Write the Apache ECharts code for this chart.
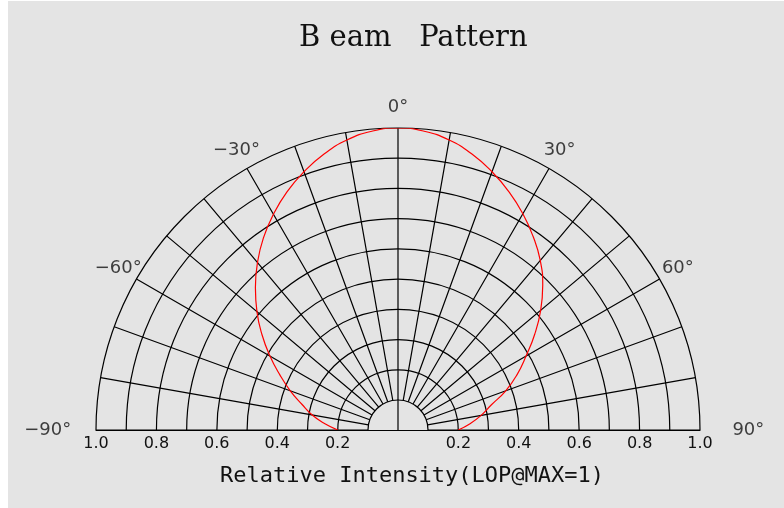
<!DOCTYPE html>
<html>
<head>
<meta charset="utf-8">
<title>Beam Pattern</title>
<script src="https://cdn.jsdelivr.net/npm/echarts@6/dist/echarts.min.js"></script>
<style>
    html, body { margin: 0; padding: 0; background: #fff; }
    #beam { position: absolute; left: 8px; top: 1px; width: 776px; height: 507px; background: #e4e4e4; }
</style>
</head>
<body>
<div id="beam"></div>
<script>
// angle in degrees, relative intensity
let angles = [-90, -85, -80, -75, -70, -65, -60, -55, -50, -45, -40, -35, -30, -25, -20, -15, -10, -5, 0,
    5, 10, 15, 20, 25, 30, 35, 40, 45, 50, 55, 60, 65, 70, 75, 80, 85, 90];
let intensity = [0.2, 0.245, 0.29, 0.33, 0.38, 0.432, 0.49, 0.55, 0.61, 0.668, 0.724, 0.777, 0.825, 0.87, 0.91, 0.946, 0.975, 0.993, 1.0,
    0.993, 0.975, 0.946, 0.91, 0.87, 0.827, 0.781, 0.733, 0.678, 0.617, 0.553, 0.49, 0.436, 0.38, 0.32, 0.28, 0.24, 0.2];
// labelled angles round the arc
let angleTicks = [-90, -60, -30, 0, 30, 60, 90];
// baseline tick labels (left and right of the centre)
let radiusTicks = [-1.0, -0.8, -0.6, -0.4, -0.2, 0, 0.2, 0.4, 0.6, 0.8, 1.0];

let myChart = echarts.init(document.getElementById('beam'));
window.onresize = function () {
    myChart.resize();
};

let black = '#000';
let cx = 390, cy = 429, rOuter = 302, rInner = 30;

function degText(v) {
    return String(v).replace('-', '\u2212') + '\u00b0';
}

let option = {
    animation: false,
    title: {
        text: 'B eam   Pattern',
        left: 291,
        top: 23,
        padding: 0,
        textStyle: {
            fontFamily: 'DejaVu Serif',
            fontSize: 29,
            fontWeight: 'normal',
            color: '#111'
        }
    },
    polar: {
        center: [cx, cy],
        radius: [rInner, rOuter]
    },
    angleAxis: {
        type: 'value',
        min: -90,
        max: 90,
        interval: 10,
        startAngle: 180,
        endAngle: 0,
        clockwise: true,
        axisLine: { show: false },
        axisTick: { show: false },
        axisLabel: { show: false },
        splitLine: { show: true, lineStyle: { color: black, width: 1.2 } }
    },
    radiusAxis: {
        type: 'value',
        min: 0.1,
        max: 1,
        interval: 0.1,
        axisLine: { show: false },
        axisTick: { show: false },
        axisLabel: { show: false },
        splitLine: { show: true, lineStyle: { color: black, width: 1.2 } }
    },
    // cartesian grid laid over the half circle: carries the baseline labels
    grid: {
        left: cx - rOuter,
        width: rOuter * 2,
        top: cy - rOuter,
        height: rOuter
    },
    xAxis: {
        type: 'value',
        min: radiusTicks[0],
        max: radiusTicks[radiusTicks.length - 1],
        interval: 0.2,
        axisLine: { show: true, lineStyle: { color: black, width: 1.2 } },
        axisTick: { show: false },
        splitLine: { show: false },
        axisLabel: {
            margin: 6,
            color: '#111',
            fontFamily: 'DejaVu Sans',
            fontSize: 16,
            formatter: function (v) {
                return Math.abs(v) < 1e-9 ? '' : Math.abs(v).toFixed(1);
            }
        },
        name: 'Relative Intensity(LOP@MAX=1)',
        nameLocation: 'middle',
        nameGap: 35,
        nameTextStyle: {
            fontFamily: 'DejaVu Sans Mono',
            fontSize: 22,
            color: '#111',
            padding: [0, 0, 0, 28]
        }
    },
    yAxis: { type: 'value', show: false, min: 0, max: 1 },
    series: [
        {
            type: 'line',
            coordinateSystem: 'polar',
            data: angles.map(function (a, i) { return [intensity[i], a]; }),
            smooth: true,
            symbol: 'none',
            lineStyle: { color: '#ff0000', width: 1.2 },
            z: 5
        },
        {
            // centre spoke runs on down to the baseline
            type: 'line',
            silent: true,
            symbol: 'none',
            data: [[0, 0], [0, 0.1]],
            lineStyle: { color: black, width: 1.2 }
        },
        {
            type: 'scatter',
            coordinateSystem: 'polar',
            clip: false,
            silent: true,
            symbolSize: 0,
            data: angleTicks.map(function (a) { return [Math.abs(a) === 90 ? 1.16 : 1.07, a]; }),
            label: {
                show: true,
                position: 'inside',
                color: '#111',
                fontFamily: 'DejaVu Sans',
                fontSize: 18,
                formatter: function (p) { return degText(p.value[1]); }
            }
        }
    ]
};
myChart.setOption(option);
</script>
</body>
</html>
